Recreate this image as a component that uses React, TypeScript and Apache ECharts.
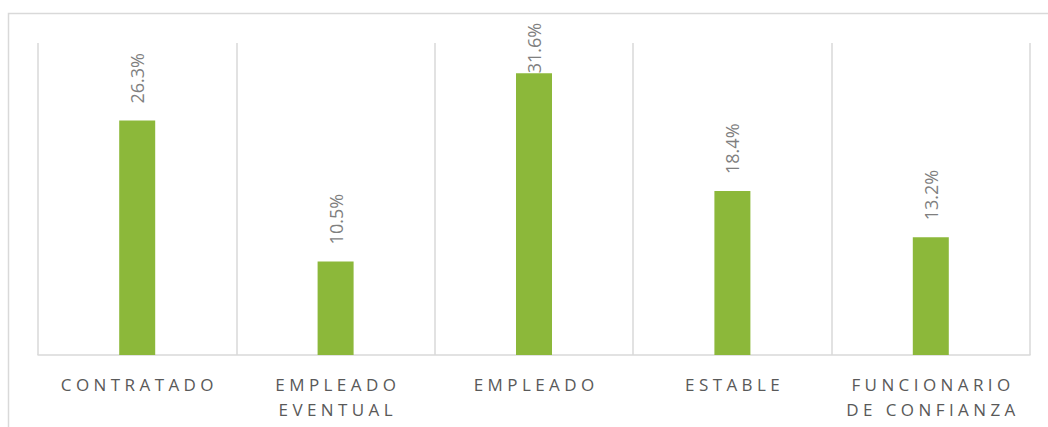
import React, { useEffect, useRef } from "react";
import * as echarts from "echarts";

const categories = ["CONTRATADO", "EMPLEADO\nEVENTUAL", "EMPLEADO", "ESTABLE", "FUNCIONARIO\nDE CONFIANZA"];
const values = [26.3, 10.5, 31.6, 18.4, 13.2];
const yMax = 35;

const spaced = (s: string) =>
  s
    .split("\n")
    .map((line) => line.split(" ").map((w) => w.split("").join(" ")).join("   "))
    .join("\n");

export default function App() {
  const ref = useRef<HTMLDivElement>(null);
  useEffect(() => {
    const chart = echarts.init(ref.current!, undefined, { renderer: "svg" });
    chart.setOption({
      animation: false,
      backgroundColor: "#ffffff",
      graphic: [
        {
          type: "rect",
          shape: { x: 8.5, y: 13.5, width: 1100, height: 500 },
          style: { fill: "none", stroke: "#d9d9d9", lineWidth: 1.5 },
          silent: true,
          z: -1,
        },
      ],
      grid: { left: 38, right: 18, top: 43, bottom: 72 },
      xAxis: {
        type: "category",
        data: categories,
        boundaryGap: true,
        axisLine: { show: true, lineStyle: { color: "#d9d9d9", width: 1.5 } },
        axisTick: { show: false },
        splitLine: { show: true, lineStyle: { color: "#d9d9d9", width: 1.5 } },
        axisLabel: {
          interval: 0,
          margin: 17,
          color: "#595959",
          fontFamily: "Open Sans",
          fontSize: 17,
          lineHeight: 25,
          formatter: (v: string) => spaced(v),
        },
      },
      yAxis: {
        type: "value",
        min: 0,
        max: yMax,
        show: false,
        splitLine: { show: false },
      },
      series: [
        {
          type: "bar",
          barWidth: 36,
          itemStyle: { color: "#8cb83a" },
          data: values.map((v) => ({
            value: v,
            label: { distance: v > 30 ? 0 : 17 },
          })),
          label: {
            show: true,
            position: "top",
            rotate: 90,
            align: "left",
            verticalAlign: "middle",
            color: "#7f7f7f",
            fontFamily: "Open Sans",
            fontSize: 18,
            formatter: (p: any) => p.value.toFixed(1) + "%",
          },
        },
      ],
    });
    return () => chart.dispose();
  }, []);
  return (
    <div
      ref={ref}
      style={{ position: "absolute", left: 0, top: 0, width: 1048, height: 427 }}
    />
  );
}
